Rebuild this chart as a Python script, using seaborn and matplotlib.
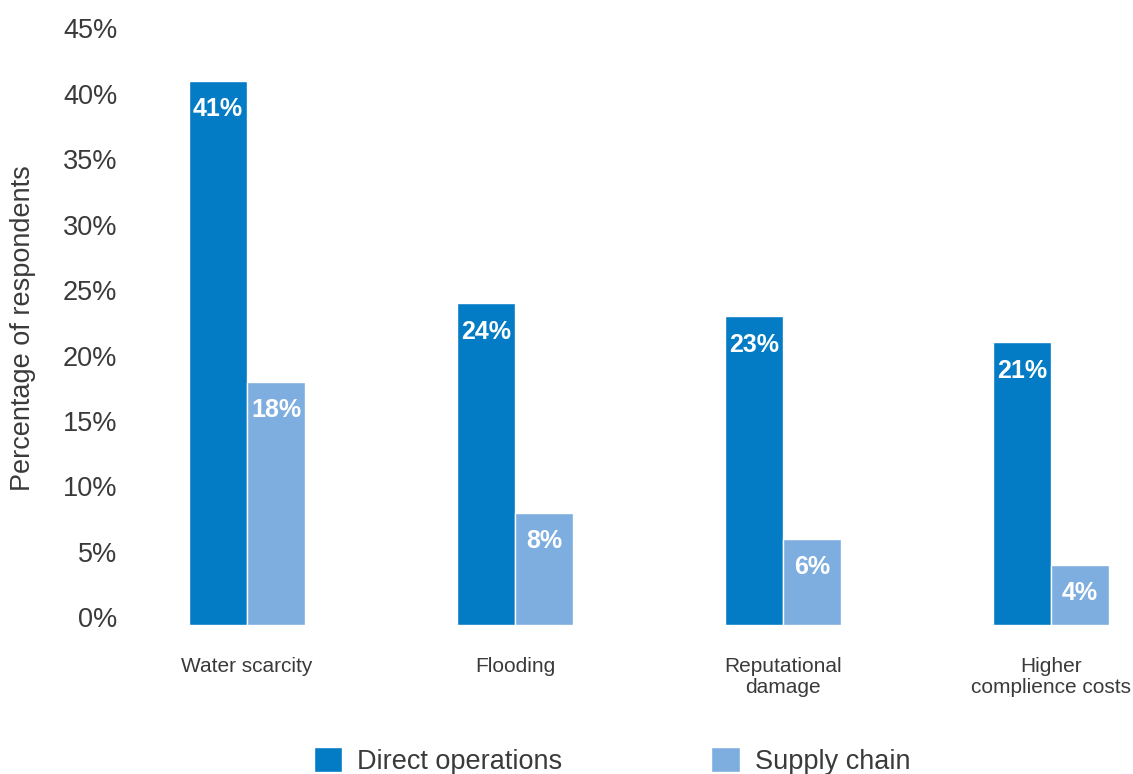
import matplotlib
matplotlib.use("Agg")
import matplotlib.pyplot as plt
import pandas as pd
import seaborn as sns

# Survey results: share of respondents citing each water risk
categories = ["Water scarcity", "Flooding", "Reputational\ndamage", "Higher\ncomplience costs"]
direct_operations = [41, 24, 23, 21]
supply_chain = [18, 8, 6, 4]
series_names = ["Direct operations", "Supply chain"]
y_ticks = [0, 5, 10, 15, 20, 25, 30, 35, 40, 45]

df = pd.DataFrame({
    "category": categories * 2,
    "value": direct_operations + supply_chain,
    "series": [series_names[0]] * len(categories) + [series_names[1]] * len(categories),
})

sns.set_theme(style="white")
plt.rcParams["font.family"] = ["Liberation Sans", "DejaVu Sans"]

text_color = "#3a3a3a"
palette = {series_names[0]: "#037cc5", series_names[1]: "#7eaedf"}
y_floor = -0.6  # bars sit on a baseline just under the 0% tick

fig = plt.figure(figsize=(11.33, 7.74), dpi=100)
ax = fig.add_axes([120 / 1133, 149 / 774, 1008 / 1133, 596.5 / 774])

sns.barplot(data=df, x="category", y="value", hue="series", palette=palette,
            width=0.435, saturation=1, dodge=True, ax=ax, legend=True)

ax.set_ylim(y_floor, 45)
ax.set_xlim((120 - 247) / 268, (1128 - 247) / 268)
ax.set_yticks(y_ticks)
ax.set_yticklabels([f"{t}%" for t in y_ticks], fontsize=19.5, color=text_color)
ax.tick_params(axis="y", length=0, pad=2)
ax.tick_params(axis="x", length=0, pad=23, labelsize=15, labelcolor=text_color)
for lab in ax.get_xticklabels():
    lab.set_verticalalignment("top")
    lab.set_linespacing(1.15)

ax.set_xlabel("")
ax.set_ylabel("Percentage of respondents", fontsize=19.5, color=text_color)
ax.yaxis.set_label_coords((36 - 120) / 1008, 0.498)

for s in ax.spines.values():
    s.set_visible(False)

# extend bars down to the baseline and label each inside its top
for container in ax.containers:
    for bar in container:
        h = bar.get_height()
        bar.set_y(y_floor)
        bar.set_height(h - y_floor)
        ax.annotate(f"{h:.0f}%", xy=(bar.get_x() + bar.get_width() / 2, h),
                    xytext=(0, -20.5), textcoords="offset points",
                    ha="center", va="center", color="white",
                    fontsize=18, fontweight="bold")

handles, labels = ax.get_legend_handles_labels()
ax.get_legend().remove()
fig.legend(handles, labels, loc="center", bbox_to_anchor=(612 / 1133, 13 / 774),
           ncol=2, frameon=False, fontsize=19.5, labelcolor=text_color,
           handlelength=1.05, handleheight=1.05, handletextpad=0.55,
           columnspacing=5.5, borderpad=0)

fig.savefig("out.png", dpi=100, facecolor="white")
